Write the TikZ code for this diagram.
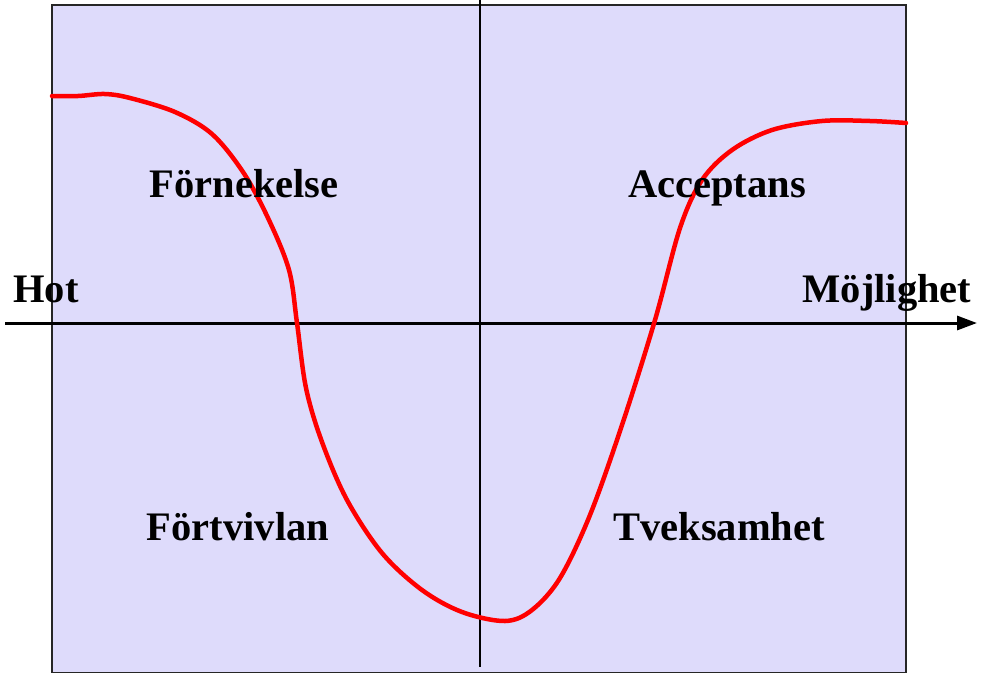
\documentclass[tikz,border=0pt]{standalone}
\usepackage{fontspec}
\setmainfont{Liberation Serif}
\usetikzlibrary{arrows.meta}
\definecolor{panel}{RGB}{222,219,251}
\begin{document}
\begin{tikzpicture}[x=1pt,y=-1pt,
  lbl/.style={font=\fontsize{40.5}{43}\selectfont\bfseries, anchor=base, inner sep=0pt},
  curve/.style={red, line width=4.5pt, line join=round, line cap=round}]
\useasboundingbox (0,0) rectangle (981,672);
\fill[panel, draw=black!85, line width=2pt] (52,5) rectangle (906,673);
\coordinate (vtop) at (480,0);
\coordinate (vbot) at (480,667);
\draw[line width=1.8pt] (vtop) -- (vbot);
\coordinate (hl) at (5,323);
\coordinate (hr) at (977,323);
\draw[line width=3pt, -{Triangle[length=20pt,width=14pt]}] (hl) -- (hr);
\draw[curve] plot[smooth, tension=0.55] coordinates {
 (52,96) (78,96) (105,94) (130,98) (175,112) (212,134) (243,172) (268,218)
 (289,270) (297,323) (306,388) (322,442) (347,500) (382,553) (422,590)
 (462,612) (505,621) (532,610) (560,578) (590,515) (622,425) (655,320)
 (680,228) (702,180) (732,150) (772,130) (822,121) (870,121) (906,123)};
\node[lbl] (forn) at (244,197) {Förnekelse};
\node[lbl] (acc) at (717,197) {Acceptans};
\node[lbl] (hot) at (46,302) {Hot};
\node[lbl] (moj) at (887,302) {Möjlighet};
\node[lbl] (fort) at (238,540) {Förtvivlan};
\node[lbl] (tvek) at (719,540) {Tveksamhet};
\end{tikzpicture}
\end{document}
